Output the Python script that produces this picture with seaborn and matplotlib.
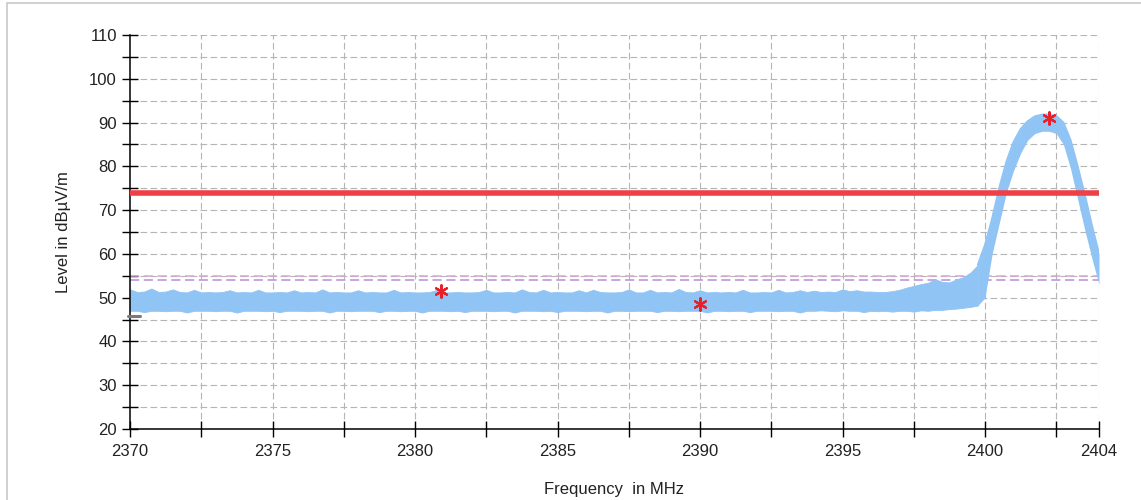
import numpy as np
import pandas as pd
import matplotlib
matplotlib.use("Agg")
import matplotlib.pyplot as plt
import seaborn as sns
from matplotlib.patches import Rectangle

# ---------------- data ----------------
# noise floor, sampled every 0.25 MHz from 2370.00 to 2399.75
noise_freq = np.arange(2370.0, 2400.0, 0.25)
noise_upper = [
    51.9, 51.3, 51.4, 52.1, 51.3, 51.4, 51.9, 51.3, 51.2, 51.8, 51.2, 51.3,
    51.2, 51.3, 51.7, 51.2, 51.3, 51.2, 51.8, 51.2, 51.2, 51.3, 51.2, 51.7,
    51.2, 51.3, 51.2, 51.9, 51.2, 51.3, 51.2, 51.2, 51.7, 51.2, 51.3, 51.2,
    51.2, 51.8, 51.2, 51.3, 51.2, 51.2, 51.3, 51.7, 51.2, 51.2, 51.3, 51.2,
    51.2, 51.3, 51.8, 51.2, 51.2, 51.3, 51.2, 51.9, 51.3, 51.2, 51.8, 51.2,
    51.3, 51.2, 51.2, 51.7, 51.2, 51.8, 51.3, 51.2, 51.2, 51.3, 51.9, 51.2,
    51.2, 51.8, 51.2, 51.3, 51.2, 52.0, 51.3, 51.2, 51.7, 51.2, 51.3, 51.2,
    51.3, 51.2, 51.8, 51.2, 51.2, 51.3, 51.2, 51.8, 51.2, 51.3, 51.7, 51.3,
    51.6, 51.3, 51.4, 51.3, 51.9, 51.5, 51.7, 51.4, 51.4, 51.3, 51.3, 51.5,
    51.8, 52.3, 52.7, 53.1, 53.4, 54.2, 53.6, 53.5, 54.2, 54.7, 55.8, 57.5,
]
noise_lower = [
    47.0, 47.0, 46.7, 47.0, 47.0, 46.9, 47.0, 47.0, 46.6, 47.0, 47.0, 47.0,
    46.9, 47.0, 47.0, 46.6, 47.0, 47.0, 47.0, 46.9, 47.0, 46.7, 47.0, 47.0,
    47.0, 46.9, 47.0, 47.0, 46.6, 47.0, 47.0, 46.9, 47.0, 47.0, 47.0, 46.7,
    47.0, 47.0, 46.9, 47.0, 47.0, 46.6, 47.0, 47.0, 47.0, 46.9, 47.0, 46.7,
    47.0, 47.0, 47.0, 46.9, 47.0, 47.0, 46.6, 47.0, 47.0, 47.0, 46.9, 47.0,
    46.7, 47.0, 47.0, 47.0, 46.9, 47.0, 47.0, 46.6, 47.0, 47.0, 46.9, 47.0,
    47.0, 47.0, 46.7, 47.0, 47.0, 46.9, 47.0, 47.0, 47.0, 46.6, 47.0, 47.0,
    46.9, 47.0, 47.0, 46.7, 47.0, 47.0, 47.0, 46.9, 47.0, 47.0, 46.6, 47.0,
    47.0, 47.1, 47.0, 46.9, 47.1, 47.0, 47.0, 46.7, 47.0, 46.9, 47.0, 46.8,
    47.0, 47.0, 46.8, 47.1, 47.0, 47.2, 47.2, 47.4, 47.5, 47.7, 47.9, 48.2,
]

# emission peak
peak_freq = [2399.75, 2400.0, 2400.25, 2400.5, 2400.75, 2401.0, 2401.25, 2401.5,
             2401.75, 2402.0, 2402.25, 2402.5, 2402.75, 2403.0, 2403.25, 2403.5,
             2403.75, 2404.0]
peak_upper = [57.5, 62.0, 68.0, 75.0, 81.0, 85.5, 88.5, 90.3,
              91.4, 91.8, 91.8, 91.5, 90.0, 86.0, 80.0, 73.5,
              66.5, 60.0]
peak_lower = [48.2, 50.0, 60.0, 67.0, 74.0, 79.0, 83.0, 86.0,
              87.5, 88.0, 88.0, 87.5, 85.0, 79.5, 72.5, 65.5,
              59.0, 53.0]

# marker points
marker_freq = [2380.9, 2390.0, 2402.25]
marker_level = [51.6, 48.6, 91.0]

limit_line = 74.0          # red limit
dashed_upper = 55.0        # pink dashed
dashed_lower = 54.0        # purple dashed
grey_ref = 45.8            # short grey reference mark at left edge

x_major = [2370, 2375, 2380, 2385, 2390, 2395, 2400, 2404]
x_minor = [2372.5, 2377.5, 2382.5, 2387.5, 2392.5, 2397.5, 2402.5]
x_grid = [2372.5, 2375, 2377.5, 2380, 2382.5, 2385, 2387.5, 2390, 2392.5,
          2395, 2397.5, 2400, 2402.5, 2404]
y_major = [20, 30, 40, 50, 60, 70, 80, 90, 100, 110]
y_minor = [25, 35, 45, 55, 65, 75, 85, 95, 105]
y_grid = [25, 30, 35, 40, 45, 50, 55, 60, 65, 70, 75, 80, 85, 90, 95, 100, 105, 110]

x_label = "Frequency  in MHz"
y_label = "Level in dBµV/m"

# ---------------- drawing ----------------
sns.set_theme(style="white")
plt.rcParams["font.family"] = ["Liberation Sans", "DejaVu Sans"]

fig = plt.figure(figsize=(11.41, 5.0), dpi=100)
ax = fig.add_axes([130 / 1141, 1 - 429 / 500, (1099 - 130) / 1141, (429 - 35) / 500])

ax.set_xlim(2370, 2404)
ax.set_ylim(20, 110)

# grid
grid_kw = dict(color="#b5b5b5", lw=0.8, ls=(0, (6, 3)), zorder=0)
for gx in x_grid:
    ax.axvline(gx, **grid_kw)
for gy in y_grid:
    ax.axhline(gy, **grid_kw)

# dashed reference lines
ax.axhline(dashed_upper, color="#dba3d6", lw=1.1, ls=(0, (6, 3)), zorder=1)
ax.axhline(dashed_lower, color="#b48fd6", lw=1.1, ls=(0, (6, 3)), zorder=1)

band_color = "#90c4f5"
ax.fill_between(noise_freq, noise_lower, noise_upper,
                color=band_color, lw=0.6, edgecolor=band_color, zorder=2)
ax.fill_between(peak_freq, peak_lower, peak_upper,
                color=band_color, lw=0, zorder=2)
sns.lineplot(x=peak_freq, y=peak_upper, ax=ax, color=band_color, lw=1.5,
             zorder=2, legend=False)

# limit line
lim_df = pd.DataFrame({"f": [2370, 2404], "v": [limit_line, limit_line]})
sns.lineplot(data=lim_df, x="f", y="v", ax=ax, color="#ee4046", lw=4.0,
             zorder=3, legend=False)

# markers
sns.scatterplot(x=marker_freq, y=marker_level, ax=ax, marker=(6, 2, 0),
                s=80, color="#e8202a", linewidth=1.6, edgecolor="#e8202a",
                zorder=5, legend=False)

# grey reference mark
ax.plot([2369.93, 2370.35], [grey_ref, grey_ref], color="#7a7a7a", lw=2.2,
        clip_on=False, zorder=6)

# spines / ticks
for s in ["top", "right"]:
    ax.spines[s].set_visible(False)
for s in ["left", "bottom"]:
    ax.spines[s].set_color("black")
    ax.spines[s].set_linewidth(1.1)

ax.set_xticks(x_major)
ax.set_xticks(x_minor, minor=True)
ax.set_yticks(y_major)
ax.set_yticks(y_minor, minor=True)
ax.tick_params(axis="both", which="both", direction="inout", length=11,
               width=1.0, color="black", labelsize=12, labelcolor="#222222",
               bottom=True, left=True)
ax.tick_params(axis="y", which="both", pad=4)
ax.tick_params(axis="x", which="both", pad=5)
ax.tick_params(axis="both", which="minor", labelleft=False, labelbottom=False)

ax.set_xlabel(x_label, fontsize=12, color="#222222", labelpad=17)
ax.set_ylabel(y_label, fontsize=12, color="#222222", labelpad=13)

# figure frame
fig.patches.append(Rectangle((7 / 1141, -0.02), 1.1, 1 - 3 / 500 + 0.02,
                             transform=fig.transFigure, fill=False,
                             edgecolor="#c8c8c8", lw=1.2))

fig.savefig("out.png", dpi=100)
